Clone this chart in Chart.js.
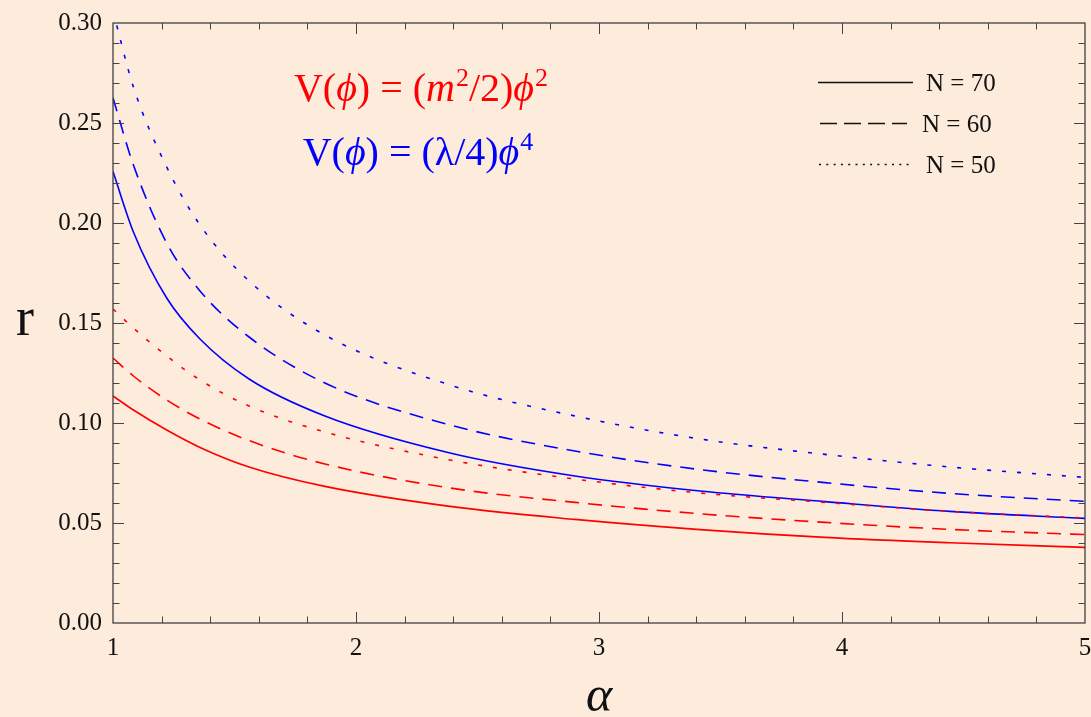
<!DOCTYPE html>
<html>
<head>
<meta charset="utf-8">
<title>r vs alpha</title>
<script src="https://cdn.jsdelivr.net/npm/chart.js@4.4.1/dist/chart.umd.min.js"></script>
<style>
html, body { margin: 0; padding: 0; background: #fdebdb; }
#wrap { position: relative; width: 1091px; height: 717px; }
</style>
</head>
<body>
<div id="wrap"><canvas id="c"></canvas></div>
<script>
/* r against alpha, quadratic (red) and quartic (blue) potentials, N = 70 / 60 / 50 */
var ALPHA = [1, 1.084, 1.221, 1.358, 1.56, 1.872, 2.387, 2.901, 3.416, 3.93, 4.444, 5];

var QUAD_N70 = [0.1135, 0.1065, 0.0965, 0.0878, 0.078, 0.0683, 0.0583, 0.0518, 0.0467, 0.0428, 0.0401, 0.0378];
var QUAD_N60 = [0.1325, 0.1235, 0.1115, 0.102, 0.0912, 0.0795, 0.0675, 0.0603, 0.0546, 0.0503, 0.0468, 0.0442];
var QUAD_N50 = [0.157, 0.1475, 0.1335, 0.1215, 0.1085, 0.0955, 0.0815, 0.072, 0.065, 0.0603, 0.0558, 0.0525];

var QUART_N70 = [0.2257, 0.1955, 0.1625, 0.142, 0.122, 0.1035, 0.085, 0.0735, 0.066, 0.0607, 0.0558, 0.0523];
var QUART_N60 = [0.2625, 0.229, 0.19, 0.166, 0.143, 0.12, 0.099, 0.086, 0.0767, 0.0702, 0.0648, 0.0608];
var QUART_N50 = [0.306, 0.268, 0.228, 0.199, 0.171, 0.144, 0.119, 0.1035, 0.092, 0.0843, 0.078, 0.0728];

var X_TICKS = [1, 2, 3, 4, 5];
var Y_TICKS = [0, 0.05, 0.10, 0.15, 0.20, 0.25, 0.30];
var LEGEND = ['N = 70', 'N = 60', 'N = 50'];

var RED = '#ff0000', BLUE = '#0000ff';
var SOLID = [], DASHED = [14, 9], DOTTED = [4, 11];
var SERIF = '"Liberation Serif", "Times New Roman", serif';

function series(vals, col, dash) {
  return {
    data: ALPHA.map(function (a, i) { return { x: a, y: vals[i] }; }),
    borderColor: col, borderWidth: 1.6, borderDash: dash,
    pointRadius: 0, fill: false, cubicInterpolationMode: 'monotone'
  };
}

// draw a run of [text, style] pieces; style n = normal, i = italic, s = superscript
function rich(c, parts, cx, base, size, col) {
  var sup = Math.round(size * 0.65);
  function font(st) { return (st === 'i' ? 'italic ' : '') + (st === 's' ? sup : size) + 'px ' + SERIF; }
  var w = 0;
  parts.forEach(function (p) { c.font = font(p[1]); w += c.measureText(p[0]).width + (p[1] === 's' ? 1 : 0); });
  var x = cx - w / 2;
  c.fillStyle = col; c.textAlign = 'left'; c.textBaseline = 'alphabetic';
  parts.forEach(function (p) {
    c.font = font(p[1]);
    c.fillText(p[0], x + (p[1] === 's' ? 1 : 0), p[1] === 's' ? base - size * 0.38 : base);
    x += c.measureText(p[0]).width + (p[1] === 's' ? 1 : 0);
  });
}

var frame = {
  id: 'frame',
  afterDatasetsDraw: function (ch) {
    var c = ch.ctx, a = ch.chartArea, xs = ch.scales.x, ys = ch.scales.y;
    c.save();
    c.strokeStyle = '#333'; c.lineWidth = 1.2;
    c.strokeRect(a.left, a.top, a.right - a.left, a.bottom - a.top);
    c.lineWidth = 1; c.strokeStyle = '#444';
    c.beginPath();
    for (var i = 1; i < 20; i++) {
      var px = Math.round(xs.getPixelForValue(1 + i * 0.2)) + 0.5, len = i % 5 ? 6.5 : 11;
      c.moveTo(px, a.bottom); c.lineTo(px, a.bottom - len);
      c.moveTo(px, a.top); c.lineTo(px, a.top + len);
    }
    for (var j = 1; j < 30; j++) {
      var py = Math.round(ys.getPixelForValue(j * 0.01)) + 0.5, l2 = j % 5 ? 6.5 : 11;
      c.moveTo(a.left, py); c.lineTo(a.left + l2, py);
      c.moveTo(a.right, py); c.lineTo(a.right - l2, py);
    }
    c.stroke();
    c.restore();
  },
  afterDraw: function (ch) {
    var c = ch.ctx, a = ch.chartArea, xs = ch.scales.x, ys = ch.scales.y;
    c.save();
    c.fillStyle = '#111';
    c.font = '25px ' + SERIF;
    c.textAlign = 'right'; c.textBaseline = 'middle';
    Y_TICKS.forEach(function (v) { c.fillText(v.toFixed(2), a.left - 11, ys.getPixelForValue(v)); });
    c.textAlign = 'center';
    X_TICKS.forEach(function (v) { c.fillText(String(v), xs.getPixelForValue(v), a.bottom + 25); });

    // axis titles
    c.textBaseline = 'alphabetic';
    c.font = '54px ' + SERIF;
    c.fillText('r', 25, 335);
    c.font = 'italic 50px ' + SERIF;
    c.fillText('\u03b1', (a.left + a.right) / 2, 711);

    // potential labels
    rich(c, [['V(', 'n'], ['\u03d5', 'i'], [') = (', 'n'], ['m', 'i'], ['2', 's'], ['/2)', 'n'], ['\u03d5', 'i'], ['2', 's']], 421, 101, 40, RED);
    rich(c, [['V(', 'n'], ['\u03d5', 'i'], [') = (\u03bb/4)', 'n'], ['\u03d5', 'i'], ['4', 's']], 418, 165, 40, BLUE);

    // line-style key
    var keyY = [82, 123, 164], keyX = [[818, 913], [820, 907], [819, 913]], dashes = [SOLID, [17, 7], [2, 5.3]];
    c.strokeStyle = '#111'; c.lineWidth = 1.4;
    keyY.forEach(function (y, k) {
      c.setLineDash(dashes[k]);
      c.beginPath(); c.moveTo(keyX[k][0], y + 0.5); c.lineTo(keyX[k][1], y + 0.5); c.stroke();
    });
    c.setLineDash([]);
    c.fillStyle = '#111';
    c.font = '25px ' + SERIF; c.textAlign = 'left'; c.textBaseline = 'middle';
    LEGEND.forEach(function (t, k) { c.fillText(t, k === 1 ? 922 : 926, keyY[k] + 2); });
    c.restore();
  }
};

new Chart(document.getElementById('c'), {
  type: 'line',
  data: {
    datasets: [
      series(QUAD_N70, RED, SOLID), series(QUAD_N60, RED, DASHED), series(QUAD_N50, RED, DOTTED),
      series(QUART_N70, BLUE, SOLID), series(QUART_N60, BLUE, DASHED), series(QUART_N50, BLUE, DOTTED)
    ]
  },
  options: {
    responsive: true, maintainAspectRatio: false, animation: false,
    layout: { padding: { left: 113, right: 6, top: 23, bottom: 94 } },
    scales: {
      x: { type: 'linear', min: 1, max: 5, display: false },
      y: { type: 'linear', min: 0, max: 0.30, display: false }
    },
    plugins: { legend: { display: false }, tooltip: { enabled: false } }
  },
  plugins: [frame]
});
</script>
</body>
</html>
